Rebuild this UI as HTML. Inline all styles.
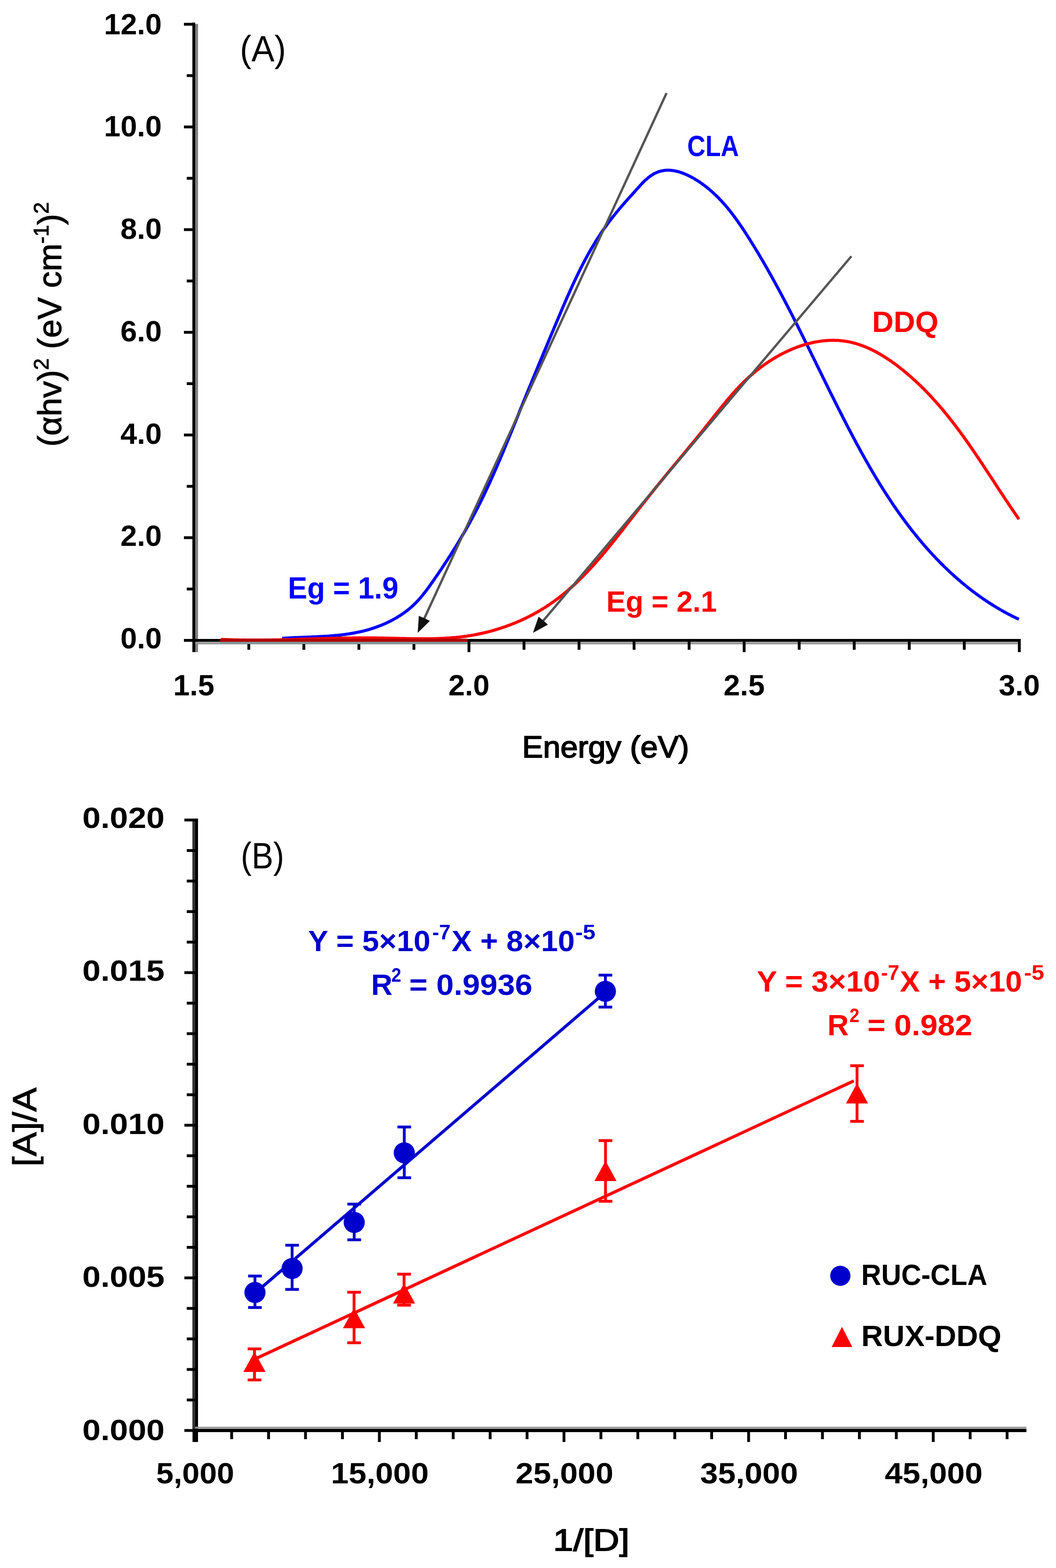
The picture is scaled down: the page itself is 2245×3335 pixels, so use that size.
<!DOCTYPE html>
<html><head><meta charset="utf-8"><title>Chart</title>
<style>
html,body{margin:0;padding:0;background:#fff;}
svg{display:block;font-family:"Liberation Sans", "DejaVu Sans", sans-serif;}
</style></head><body>
<svg width="2245" height="3335" viewBox="0 0 2245 3335">
<rect width="2245" height="3335" fill="#fff"/>
<line x1="412.0" y1="48.0" x2="412.0" y2="1387.0" stroke="#000" stroke-width="6" />
<line x1="418.0" y1="51.0" x2="418.0" y2="1387.0" stroke="#808080" stroke-width="6" />
<line x1="409.0" y1="1362.0" x2="2170.0" y2="1362.0" stroke="#000" stroke-width="6" />
<line x1="415.0" y1="1368.0" x2="2167.0" y2="1368.0" stroke="#9a9a9a" stroke-width="5" />
<line x1="391.0" y1="1362.0" x2="412.0" y2="1362.0" stroke="#000" stroke-width="6" />
<line x1="397.0" y1="1252.8" x2="412.0" y2="1252.8" stroke="#000" stroke-width="6" />
<line x1="391.0" y1="1143.6" x2="412.0" y2="1143.6" stroke="#000" stroke-width="6" />
<line x1="397.0" y1="1034.4" x2="412.0" y2="1034.4" stroke="#000" stroke-width="6" />
<line x1="391.0" y1="925.2" x2="412.0" y2="925.2" stroke="#000" stroke-width="6" />
<line x1="397.0" y1="816.0" x2="412.0" y2="816.0" stroke="#000" stroke-width="6" />
<line x1="391.0" y1="706.8" x2="412.0" y2="706.8" stroke="#000" stroke-width="6" />
<line x1="397.0" y1="597.6" x2="412.0" y2="597.6" stroke="#000" stroke-width="6" />
<line x1="391.0" y1="488.4" x2="412.0" y2="488.4" stroke="#000" stroke-width="6" />
<line x1="397.0" y1="379.2" x2="412.0" y2="379.2" stroke="#000" stroke-width="6" />
<line x1="391.0" y1="270.0" x2="412.0" y2="270.0" stroke="#000" stroke-width="6" />
<line x1="397.0" y1="160.8" x2="412.0" y2="160.8" stroke="#000" stroke-width="6" />
<line x1="391.0" y1="51.6" x2="412.0" y2="51.6" stroke="#000" stroke-width="6" />
<line x1="412.0" y1="1362.0" x2="412.0" y2="1387.0" stroke="#000" stroke-width="6" />
<line x1="529.0" y1="1362.0" x2="529.0" y2="1382.0" stroke="#000" stroke-width="6" />
<line x1="646.0" y1="1362.0" x2="646.0" y2="1382.0" stroke="#000" stroke-width="6" />
<line x1="763.0" y1="1362.0" x2="763.0" y2="1382.0" stroke="#000" stroke-width="6" />
<line x1="880.0" y1="1362.0" x2="880.0" y2="1382.0" stroke="#000" stroke-width="6" />
<line x1="997.0" y1="1362.0" x2="997.0" y2="1387.0" stroke="#000" stroke-width="6" />
<line x1="1114.0" y1="1362.0" x2="1114.0" y2="1382.0" stroke="#000" stroke-width="6" />
<line x1="1231.0" y1="1362.0" x2="1231.0" y2="1382.0" stroke="#000" stroke-width="6" />
<line x1="1348.0" y1="1362.0" x2="1348.0" y2="1382.0" stroke="#000" stroke-width="6" />
<line x1="1465.0" y1="1362.0" x2="1465.0" y2="1382.0" stroke="#000" stroke-width="6" />
<line x1="1582.0" y1="1362.0" x2="1582.0" y2="1387.0" stroke="#000" stroke-width="6" />
<line x1="1699.0" y1="1362.0" x2="1699.0" y2="1382.0" stroke="#000" stroke-width="6" />
<line x1="1816.0" y1="1362.0" x2="1816.0" y2="1382.0" stroke="#000" stroke-width="6" />
<line x1="1933.0" y1="1362.0" x2="1933.0" y2="1382.0" stroke="#000" stroke-width="6" />
<line x1="2050.0" y1="1362.0" x2="2050.0" y2="1382.0" stroke="#000" stroke-width="6" />
<line x1="2167.0" y1="1362.0" x2="2167.0" y2="1387.0" stroke="#000" stroke-width="6" />
<text x="344.0" y="1379.0" font-size="63" font-weight="bold" fill="#000" text-anchor="end" textLength="88.0" lengthAdjust="spacingAndGlyphs" >0.0</text>
<text x="344.0" y="1161.3" font-size="63" font-weight="bold" fill="#000" text-anchor="end" textLength="88.0" lengthAdjust="spacingAndGlyphs" >2.0</text>
<text x="344.0" y="943.5" font-size="63" font-weight="bold" fill="#000" text-anchor="end" textLength="88.0" lengthAdjust="spacingAndGlyphs" >4.0</text>
<text x="344.0" y="725.8" font-size="63" font-weight="bold" fill="#000" text-anchor="end" textLength="88.0" lengthAdjust="spacingAndGlyphs" >6.0</text>
<text x="344.0" y="508.1" font-size="63" font-weight="bold" fill="#000" text-anchor="end" textLength="88.0" lengthAdjust="spacingAndGlyphs" >8.0</text>
<text x="344.0" y="290.3" font-size="63" font-weight="bold" fill="#000" text-anchor="end" textLength="123.0" lengthAdjust="spacingAndGlyphs" >10.0</text>
<text x="344.0" y="72.6" font-size="63" font-weight="bold" fill="#000" text-anchor="end" textLength="123.0" lengthAdjust="spacingAndGlyphs" >12.0</text>
<text x="412.0" y="1479.0" font-size="63" font-weight="bold" fill="#000" text-anchor="middle" >1.5</text>
<text x="997.0" y="1479.0" font-size="63" font-weight="bold" fill="#000" text-anchor="middle" >2.0</text>
<text x="1582.0" y="1479.0" font-size="63" font-weight="bold" fill="#000" text-anchor="middle" >2.5</text>
<text x="2167.0" y="1479.0" font-size="63" font-weight="bold" fill="#000" text-anchor="middle" >3.0</text>
<path d="M600.0,1357.6 L602.9,1357.4 L605.8,1357.2 L608.7,1357.0 L611.7,1356.9 L614.6,1356.7 L617.5,1356.6 L620.5,1356.4 L623.4,1356.3 L626.3,1356.1 L629.3,1356.0 L632.2,1355.9 L635.1,1355.8 L638.1,1355.7 L641.0,1355.6 L643.9,1355.4 L646.9,1355.3 L649.8,1355.2 L652.7,1355.1 L655.7,1355.0 L658.6,1354.9 L661.5,1354.8 L664.5,1354.6 L667.4,1354.5 L670.3,1354.4 L673.3,1354.3 L676.2,1354.1 L679.1,1354.0 L682.0,1353.8 L685.0,1353.7 L687.9,1353.5 L690.8,1353.3 L693.7,1353.2 L696.7,1353.0 L699.6,1352.8 L702.5,1352.5 L705.4,1352.3 L708.3,1352.1 L711.2,1351.8 L714.1,1351.5 L717.0,1351.3 L719.9,1351.0 L722.8,1350.7 L725.7,1350.3 L728.6,1350.0 L731.5,1349.6 L734.4,1349.2 L737.3,1348.8 L740.2,1348.4 L743.1,1348.0 L745.9,1347.5 L748.8,1347.0 L751.7,1346.5 L754.5,1346.0 L757.4,1345.4 L760.2,1344.8 L763.1,1344.2 L766.0,1343.6 L768.8,1343.0 L771.6,1342.3 L774.5,1341.6 L777.3,1340.8 L780.1,1340.1 L783.0,1339.3 L785.8,1338.5 L788.6,1337.6 L791.4,1336.7 L794.2,1335.8 L797.0,1334.9 L799.8,1333.9 L802.5,1332.9 L805.3,1331.8 L808.1,1330.8 L810.8,1329.7 L813.5,1328.5 L816.3,1327.4 L819.0,1326.2 L821.6,1325.0 L824.3,1323.7 L827.0,1322.4 L829.6,1321.1 L832.3,1319.8 L834.9,1318.4 L837.4,1317.0 L840.0,1315.5 L842.6,1314.1 L845.1,1312.6 L847.6,1311.0 L850.1,1309.4 L852.5,1307.8 L855.0,1306.2 L857.4,1304.5 L859.8,1302.9 L862.1,1301.1 L864.5,1299.4 L866.8,1297.6 L869.0,1295.7 L871.3,1293.9 L873.5,1292.0 L875.7,1290.1 L877.8,1288.1 L879.9,1286.1 L882.0,1284.1 L884.1,1282.0 L886.1,1280.0 L888.1,1277.8 L890.1,1275.7 L892.0,1273.5 L893.9,1271.3 L895.8,1269.1 L897.7,1266.9 L899.5,1264.6 L901.3,1262.3 L903.1,1260.0 L904.9,1257.7 L906.7,1255.4 L908.4,1253.0 L910.2,1250.7 L911.9,1248.3 L913.6,1245.9 L915.3,1243.5 L917.0,1241.1 L918.7,1238.7 L920.4,1236.3 L922.1,1233.9 L923.7,1231.5 L925.4,1229.1 L927.1,1226.7 L928.7,1224.3 L930.4,1221.8 L932.1,1219.4 L933.7,1217.0 L935.3,1214.5 L937.0,1212.1 L938.6,1209.7 L940.3,1207.2 L941.9,1204.8 L943.5,1202.3 L945.1,1199.9 L946.7,1197.4 L948.3,1195.0 L949.9,1192.5 L951.5,1190.1 L953.1,1187.6 L954.7,1185.1 L956.3,1182.7 L957.9,1180.2 L959.4,1177.7 L961.0,1175.2 L962.6,1172.7 L964.1,1170.3 L965.7,1167.8 L967.2,1165.3 L968.8,1162.8 L970.3,1160.3 L971.8,1157.8 L973.3,1155.3 L974.8,1152.8 L976.4,1150.3 L977.9,1147.7 L979.4,1145.2 L980.9,1142.7 L982.3,1140.2 L983.8,1137.6 L985.3,1135.1 L986.8,1132.6 L988.2,1130.0 L989.7,1127.5 L991.1,1125.0 L992.6,1122.4 L994.0,1119.9 L995.4,1117.3 L996.9,1114.7 L998.3,1112.2 L999.7,1109.6 L1001.1,1107.0 L1002.5,1104.5 L1003.9,1101.9 L1005.3,1099.3 L1006.6,1096.7 L1008.0,1094.2 L1009.4,1091.6 L1010.7,1089.0 L1012.1,1086.4 L1013.4,1083.8 L1014.8,1081.2 L1016.1,1078.6 L1017.4,1076.0 L1018.7,1073.3 L1020.1,1070.7 L1021.4,1068.1 L1022.7,1065.5 L1023.9,1062.9 L1025.2,1060.2 L1026.5,1057.6 L1027.8,1055.0 L1029.1,1052.3 L1030.3,1049.7 L1031.6,1047.1 L1032.8,1044.4 L1034.1,1041.8 L1035.3,1039.1 L1036.6,1036.5 L1037.8,1033.8 L1039.0,1031.2 L1040.2,1028.5 L1041.5,1025.8 L1042.7,1023.2 L1043.9,1020.5 L1045.1,1017.8 L1046.3,1015.2 L1047.5,1012.5 L1048.7,1009.8 L1049.8,1007.1 L1051.0,1004.5 L1052.2,1001.8 L1053.4,999.1 L1054.5,996.4 L1055.7,993.7 L1056.9,991.0 L1058.0,988.3 L1059.2,985.7 L1060.3,983.0 L1061.5,980.3 L1062.6,977.6 L1063.8,974.9 L1064.9,972.2 L1066.1,969.5 L1067.2,966.8 L1068.3,964.1 L1069.5,961.4 L1070.6,958.7 L1071.7,956.0 L1072.8,953.3 L1074.0,950.5 L1075.1,947.8 L1076.2,945.1 L1077.3,942.4 L1078.4,939.7 L1079.5,937.0 L1080.6,934.3 L1081.7,931.6 L1082.9,928.9 L1084.0,926.1 L1085.1,923.4 L1086.2,920.7 L1087.3,918.0 L1088.4,915.3 L1089.5,912.6 L1090.6,909.8 L1091.7,907.1 L1092.8,904.4 L1093.9,901.7 L1095.0,899.0 L1096.1,896.3 L1097.2,893.6 L1098.3,890.8 L1099.4,888.1 L1100.5,885.4 L1101.6,882.7 L1102.7,880.0 L1103.7,877.3 L1104.8,874.5 L1105.9,871.8 L1107.0,869.1 L1108.1,866.4 L1109.3,863.7 L1110.4,861.0 L1111.5,858.3 L1112.6,855.6 L1113.7,852.8 L1114.8,850.1 L1115.9,847.4 L1117.0,844.7 L1118.1,842.0 L1119.2,839.3 L1120.3,836.6 L1121.4,833.9 L1122.5,831.2 L1123.6,828.5 L1124.7,825.8 L1125.8,823.1 L1127.0,820.3 L1128.1,817.6 L1129.2,814.9 L1130.3,812.2 L1131.4,809.5 L1132.5,806.8 L1133.6,804.1 L1134.7,801.4 L1135.9,798.7 L1137.0,796.0 L1138.1,793.3 L1139.2,790.6 L1140.3,787.9 L1141.4,785.2 L1142.6,782.5 L1143.7,779.8 L1144.8,777.1 L1145.9,774.4 L1147.0,771.7 L1148.2,769.0 L1149.3,766.3 L1150.4,763.6 L1151.5,760.9 L1152.7,758.2 L1153.8,755.5 L1154.9,752.8 L1156.0,750.1 L1157.2,747.4 L1158.3,744.7 L1159.4,742.0 L1160.5,739.3 L1161.7,736.6 L1162.8,733.9 L1163.9,731.2 L1165.1,728.5 L1166.2,725.8 L1167.3,723.1 L1168.4,720.4 L1169.6,717.7 L1170.7,715.0 L1171.8,712.3 L1173.0,709.6 L1174.1,706.9 L1175.2,704.2 L1176.4,701.5 L1177.5,698.8 L1178.6,696.1 L1179.8,693.4 L1180.9,690.7 L1182.0,688.0 L1183.2,685.3 L1184.3,682.6 L1185.5,679.9 L1186.6,677.2 L1187.7,674.5 L1188.9,671.8 L1190.0,669.1 L1191.2,666.4 L1192.3,663.7 L1193.4,661.0 L1194.6,658.3 L1195.7,655.6 L1196.9,652.9 L1198.0,650.2 L1199.2,647.5 L1200.4,644.8 L1201.5,642.2 L1202.7,639.5 L1203.9,636.8 L1205.0,634.1 L1206.2,631.4 L1207.4,628.7 L1208.6,626.1 L1209.8,623.4 L1211.0,620.7 L1212.2,618.0 L1213.4,615.4 L1214.6,612.7 L1215.8,610.0 L1217.0,607.4 L1218.2,604.7 L1219.4,602.1 L1220.7,599.4 L1221.9,596.8 L1223.2,594.1 L1224.4,591.5 L1225.7,588.8 L1226.9,586.2 L1228.2,583.6 L1229.5,580.9 L1230.8,578.3 L1232.1,575.7 L1233.4,573.1 L1234.7,570.5 L1236.0,567.8 L1237.3,565.2 L1238.7,562.6 L1240.0,560.1 L1241.4,557.5 L1242.7,554.9 L1244.1,552.3 L1245.5,549.7 L1246.9,547.2 L1248.3,544.6 L1249.7,542.0 L1251.1,539.5 L1252.6,536.9 L1254.0,534.4 L1255.4,531.9 L1256.9,529.3 L1258.4,526.8 L1259.9,524.3 L1261.4,521.8 L1262.9,519.3 L1264.4,516.8 L1265.9,514.3 L1267.5,511.8 L1269.0,509.3 L1270.6,506.9 L1272.2,504.4 L1273.8,501.9 L1275.4,499.5 L1277.0,497.0 L1278.6,494.6 L1280.3,492.2 L1281.9,489.8 L1283.6,487.3 L1285.3,484.9 L1287.0,482.5 L1288.7,480.2 L1290.4,477.8 L1292.2,475.4 L1293.9,473.0 L1295.7,470.7 L1297.5,468.3 L1299.3,466.0 L1301.1,463.7 L1302.9,461.4 L1304.7,459.1 L1306.6,456.8 L1308.4,454.5 L1310.2,452.2 L1312.1,450.0 L1314.0,447.7 L1315.8,445.5 L1317.7,443.2 L1319.6,441.0 L1321.5,438.8 L1323.3,436.6 L1325.2,434.5 L1327.1,432.3 L1329.0,430.2 L1330.9,428.0 L1332.8,425.9 L1334.7,423.8 L1336.5,421.7 L1338.4,419.6 L1340.3,417.5 L1342.2,415.4 L1344.1,413.4 L1346.0,411.3 L1347.9,409.2 L1349.8,407.1 L1351.7,404.9 L1353.6,402.8 L1355.6,400.6 L1357.5,398.5 L1359.4,396.3 L1361.4,394.1 L1363.4,391.9 L1365.4,389.8 L1367.5,387.6 L1369.6,385.5 L1371.8,383.4 L1374.0,381.4 L1376.3,379.5 L1378.6,377.6 L1381.0,375.7 L1383.4,374.0 L1385.9,372.4 L1388.4,370.8 L1390.9,369.4 L1393.5,368.1 L1396.0,366.9 L1398.7,365.8 L1401.3,364.9 L1403.9,364.1 L1406.6,363.5 L1409.3,363.0 L1412.0,362.6 L1414.7,362.3 L1417.4,362.1 L1420.1,362.1 L1422.9,362.1 L1425.6,362.3 L1428.4,362.5 L1431.1,362.9 L1433.9,363.3 L1436.6,363.9 L1439.4,364.5 L1442.2,365.2 L1444.9,366.0 L1447.7,366.9 L1450.4,367.9 L1453.2,368.9 L1455.9,370.0 L1458.6,371.2 L1461.3,372.4 L1464.0,373.7 L1466.7,375.0 L1469.3,376.4 L1472.0,377.8 L1474.6,379.3 L1477.2,380.8 L1479.7,382.4 L1482.3,384.0 L1484.8,385.6 L1487.3,387.2 L1489.8,388.9 L1492.2,390.6 L1494.6,392.4 L1497.0,394.1 L1499.3,395.9 L1501.7,397.7 L1504.0,399.6 L1506.3,401.4 L1508.5,403.3 L1510.7,405.2 L1512.9,407.1 L1515.1,409.1 L1517.3,411.1 L1519.4,413.1 L1521.6,415.1 L1523.6,417.1 L1525.7,419.2 L1527.8,421.3 L1529.8,423.4 L1531.8,425.5 L1533.8,427.6 L1535.8,429.8 L1537.8,431.9 L1539.7,434.1 L1541.6,436.3 L1543.5,438.5 L1545.4,440.8 L1547.3,443.0 L1549.1,445.3 L1551.0,447.6 L1552.8,449.9 L1554.6,452.2 L1556.4,454.5 L1558.2,456.8 L1559.9,459.2 L1561.7,461.5 L1563.4,463.9 L1565.1,466.3 L1566.8,468.7 L1568.5,471.1 L1570.2,473.5 L1571.9,475.9 L1573.6,478.3 L1575.2,480.7 L1576.9,483.2 L1578.5,485.6 L1580.2,488.1 L1581.8,490.5 L1583.4,493.0 L1585.0,495.4 L1586.6,497.9 L1588.2,500.4 L1589.8,502.9 L1591.3,505.3 L1592.9,507.8 L1594.5,510.3 L1596.0,512.8 L1597.6,515.3 L1599.1,517.8 L1600.7,520.3 L1602.2,522.8 L1603.8,525.3 L1605.3,527.8 L1606.8,530.3 L1608.3,532.8 L1609.8,535.3 L1611.4,537.8 L1612.9,540.3 L1614.4,542.9 L1615.9,545.4 L1617.3,547.9 L1618.8,550.4 L1620.3,553.0 L1621.8,555.5 L1623.3,558.0 L1624.7,560.5 L1626.2,563.1 L1627.6,565.6 L1629.1,568.1 L1630.6,570.7 L1632.0,573.2 L1633.4,575.8 L1634.9,578.3 L1636.3,580.9 L1637.7,583.4 L1639.2,586.0 L1640.6,588.5 L1642.0,591.1 L1643.4,593.6 L1644.8,596.2 L1646.2,598.7 L1647.6,601.3 L1649.0,603.9 L1650.4,606.4 L1651.8,609.0 L1653.2,611.6 L1654.6,614.1 L1656.0,616.7 L1657.4,619.3 L1658.8,621.9 L1660.1,624.4 L1661.5,627.0 L1662.9,629.6 L1664.2,632.2 L1665.6,634.8 L1667.0,637.3 L1668.3,639.9 L1669.7,642.5 L1671.0,645.1 L1672.4,647.7 L1673.7,650.3 L1675.1,652.9 L1676.4,655.5 L1677.7,658.1 L1679.1,660.6 L1680.4,663.2 L1681.7,665.8 L1683.1,668.4 L1684.4,671.0 L1685.7,673.6 L1687.1,676.2 L1688.4,678.8 L1689.7,681.5 L1691.0,684.1 L1692.3,686.7 L1693.7,689.3 L1695.0,691.9 L1696.3,694.5 L1697.6,697.1 L1698.9,699.7 L1700.2,702.3 L1701.5,704.9 L1702.8,707.6 L1704.1,710.2 L1705.4,712.8 L1706.7,715.4 L1708.0,718.0 L1709.3,720.6 L1710.6,723.3 L1711.9,725.9 L1713.2,728.5 L1714.5,731.1 L1715.8,733.8 L1717.1,736.4 L1718.4,739.0 L1719.7,741.6 L1721.0,744.2 L1722.3,746.9 L1723.6,749.5 L1724.8,752.1 L1726.1,754.7 L1727.4,757.4 L1728.7,760.0 L1730.0,762.6 L1731.3,765.3 L1732.6,767.9 L1733.9,770.5 L1735.1,773.1 L1736.4,775.8 L1737.7,778.4 L1739.0,781.0 L1740.3,783.7 L1741.6,786.3 L1742.9,788.9 L1744.2,791.5 L1745.4,794.2 L1746.7,796.8 L1748.0,799.4 L1749.3,802.1 L1750.6,804.7 L1751.9,807.3 L1753.2,809.9 L1754.5,812.6 L1755.8,815.2 L1757.1,817.8 L1758.4,820.5 L1759.7,823.1 L1761.0,825.7 L1762.2,828.3 L1763.5,831.0 L1764.8,833.6 L1766.1,836.2 L1767.4,838.8 L1768.7,841.5 L1770.1,844.1 L1771.4,846.7 L1772.7,849.3 L1774.0,851.9 L1775.3,854.6 L1776.6,857.2 L1777.9,859.8 L1779.2,862.4 L1780.5,865.0 L1781.8,867.7 L1783.2,870.3 L1784.5,872.9 L1785.8,875.5 L1787.1,878.1 L1788.5,880.7 L1789.8,883.3 L1791.1,886.0 L1792.4,888.6 L1793.8,891.2 L1795.1,893.8 L1796.5,896.4 L1797.8,899.0 L1799.1,901.6 L1800.5,904.2 L1801.8,906.8 L1803.2,909.4 L1804.5,912.0 L1805.9,914.6 L1807.3,917.2 L1808.6,919.8 L1810.0,922.4 L1811.4,925.0 L1812.7,927.6 L1814.1,930.2 L1815.5,932.8 L1816.8,935.3 L1818.2,937.9 L1819.6,940.5 L1821.0,943.1 L1822.4,945.7 L1823.8,948.3 L1825.2,950.8 L1826.6,953.4 L1828.0,956.0 L1829.4,958.6 L1830.8,961.1 L1832.2,963.7 L1833.7,966.3 L1835.1,968.8 L1836.5,971.4 L1837.9,973.9 L1839.4,976.5 L1840.8,979.0 L1842.3,981.6 L1843.7,984.1 L1845.2,986.7 L1846.6,989.2 L1848.1,991.8 L1849.5,994.3 L1851.0,996.8 L1852.5,999.4 L1854.0,1001.9 L1855.4,1004.4 L1856.9,1006.9 L1858.4,1009.4 L1859.9,1012.0 L1861.4,1014.5 L1862.9,1017.0 L1864.4,1019.5 L1866.0,1022.0 L1867.5,1024.5 L1869.0,1027.0 L1870.5,1029.5 L1872.1,1032.0 L1873.6,1034.4 L1875.2,1036.9 L1876.7,1039.4 L1878.3,1041.9 L1879.9,1044.3 L1881.4,1046.8 L1883.0,1049.3 L1884.6,1051.7 L1886.2,1054.2 L1887.8,1056.6 L1889.4,1059.1 L1891.0,1061.5 L1892.6,1064.0 L1894.2,1066.4 L1895.8,1068.8 L1897.5,1071.2 L1899.1,1073.7 L1900.7,1076.1 L1902.4,1078.5 L1904.1,1080.9 L1905.7,1083.3 L1907.4,1085.7 L1909.1,1088.1 L1910.7,1090.5 L1912.4,1092.8 L1914.1,1095.2 L1915.8,1097.6 L1917.5,1100.0 L1919.3,1102.3 L1921.0,1104.7 L1922.7,1107.0 L1924.5,1109.4 L1926.2,1111.7 L1928.0,1114.1 L1929.7,1116.4 L1931.5,1118.7 L1933.3,1121.0 L1935.1,1123.3 L1936.8,1125.6 L1938.6,1128.0 L1940.4,1130.2 L1942.3,1132.5 L1944.1,1134.8 L1945.9,1137.1 L1947.8,1139.4 L1949.6,1141.6 L1951.5,1143.9 L1953.3,1146.2 L1955.2,1148.4 L1957.1,1150.6 L1959.0,1152.9 L1960.8,1155.1 L1962.8,1157.3 L1964.7,1159.6 L1966.6,1161.8 L1968.5,1164.0 L1970.5,1166.2 L1972.4,1168.4 L1974.4,1170.5 L1976.3,1172.7 L1978.3,1174.9 L1980.3,1177.1 L1982.3,1179.2 L1984.3,1181.4 L1986.3,1183.5 L1988.3,1185.6 L1990.3,1187.8 L1992.3,1189.9 L1994.4,1192.0 L1996.4,1194.1 L1998.5,1196.2 L2000.5,1198.3 L2002.6,1200.3 L2004.7,1202.4 L2006.8,1204.5 L2008.9,1206.5 L2011.0,1208.5 L2013.1,1210.6 L2015.2,1212.6 L2017.4,1214.6 L2019.5,1216.6 L2021.6,1218.6 L2023.8,1220.6 L2026.0,1222.6 L2028.1,1224.5 L2030.3,1226.5 L2032.5,1228.4 L2034.7,1230.4 L2036.9,1232.3 L2039.1,1234.2 L2041.4,1236.1 L2043.6,1238.0 L2045.8,1239.9 L2048.1,1241.8 L2050.4,1243.6 L2052.6,1245.5 L2054.9,1247.3 L2057.2,1249.2 L2059.5,1251.0 L2061.8,1252.8 L2064.1,1254.6 L2066.4,1256.4 L2068.7,1258.2 L2071.1,1259.9 L2073.4,1261.7 L2075.8,1263.4 L2078.1,1265.1 L2080.5,1266.8 L2082.9,1268.6 L2085.3,1270.2 L2087.7,1271.9 L2090.1,1273.6 L2092.5,1275.2 L2094.9,1276.9 L2097.3,1278.5 L2099.8,1280.1 L2102.2,1281.7 L2104.7,1283.3 L2107.1,1284.9 L2109.6,1286.4 L2112.1,1288.0 L2114.6,1289.5 L2117.1,1291.0 L2119.6,1292.5 L2122.1,1294.0 L2124.6,1295.5 L2127.1,1297.0 L2129.7,1298.4 L2132.2,1299.9 L2134.8,1301.3 L2137.3,1302.7 L2139.9,1304.1 L2142.5,1305.5 L2145.1,1306.8 L2147.7,1308.2 L2150.3,1309.5 L2152.9,1310.8 L2155.5,1312.1 L2158.2,1313.4 L2160.8,1314.7 L2163.5,1315.9 L2166.1,1317.2" fill="none" stroke="#0000ff" stroke-width="6.5" stroke-linejoin="round"/>
<path d="M470.0,1359.9 L472.4,1360.0 L474.7,1360.1 L477.1,1360.2 L479.5,1360.3 L481.9,1360.4 L484.3,1360.5 L486.7,1360.6 L489.1,1360.7 L491.4,1360.7 L493.8,1360.8 L496.2,1360.9 L498.6,1360.9 L501.0,1361.0 L503.4,1361.1 L505.7,1361.1 L508.1,1361.2 L510.5,1361.2 L512.9,1361.2 L515.2,1361.3 L517.6,1361.3 L520.0,1361.3 L522.4,1361.4 L524.7,1361.4 L527.1,1361.4 L529.5,1361.4 L531.8,1361.4 L534.2,1361.4 L536.6,1361.4 L538.9,1361.5 L541.3,1361.5 L543.7,1361.5 L546.0,1361.4 L548.4,1361.4 L550.8,1361.4 L553.1,1361.4 L555.5,1361.4 L557.9,1361.4 L560.2,1361.4 L562.6,1361.3 L564.9,1361.3 L567.3,1361.3 L569.7,1361.3 L572.0,1361.2 L574.4,1361.2 L576.7,1361.2 L579.1,1361.1 L581.5,1361.1 L583.8,1361.0 L586.2,1361.0 L588.5,1361.0 L590.9,1360.9 L593.2,1360.9 L595.6,1360.8 L598.0,1360.8 L600.3,1360.7 L602.7,1360.7 L605.0,1360.6 L607.4,1360.5 L609.7,1360.5 L612.1,1360.4 L614.4,1360.4 L616.8,1360.3 L619.1,1360.2 L621.5,1360.2 L623.9,1360.1 L626.2,1360.0 L628.6,1360.0 L630.9,1359.9 L633.3,1359.8 L635.6,1359.8 L638.0,1359.7 L640.3,1359.6 L642.7,1359.6 L645.0,1359.5 L647.4,1359.4 L649.7,1359.4 L652.1,1359.3 L654.4,1359.2 L656.8,1359.1 L659.1,1359.1 L661.5,1359.0 L663.8,1358.9 L666.2,1358.9 L668.5,1358.8 L670.9,1358.7 L673.2,1358.6 L675.6,1358.6 L677.9,1358.5 L680.3,1358.4 L682.6,1358.4 L685.0,1358.3 L687.3,1358.2 L689.7,1358.2 L692.0,1358.1 L694.4,1358.0 L696.7,1358.0 L699.1,1357.9 L701.5,1357.8 L703.8,1357.8 L706.2,1357.7 L708.5,1357.7 L710.9,1357.6 L713.2,1357.5 L715.6,1357.5 L717.9,1357.4 L720.3,1357.4 L722.6,1357.3 L725.0,1357.3 L727.4,1357.2 L729.7,1357.2 L732.1,1357.1 L734.4,1357.1 L736.8,1357.1 L739.1,1357.0 L741.5,1357.0 L743.9,1356.9 L746.2,1356.9 L748.6,1356.9 L750.9,1356.8 L753.3,1356.8 L755.7,1356.8 L758.0,1356.8 L760.4,1356.8 L762.8,1356.7 L765.1,1356.7 L767.5,1356.7 L769.9,1356.7 L772.2,1356.7 L774.6,1356.7 L777.0,1356.7 L779.3,1356.7 L781.7,1356.7 L784.1,1356.7 L786.4,1356.7 L788.8,1356.7 L791.2,1356.7 L793.5,1356.8 L795.9,1356.8 L798.3,1356.8 L800.7,1356.8 L803.0,1356.9 L805.4,1356.9 L807.8,1356.9 L810.2,1357.0 L812.5,1357.0 L814.9,1357.1 L817.3,1357.1 L819.7,1357.2 L822.1,1357.2 L824.4,1357.3 L826.8,1357.3 L829.2,1357.4 L831.6,1357.4 L834.0,1357.5 L836.4,1357.6 L838.7,1357.6 L841.1,1357.7 L843.5,1357.7 L845.9,1357.8 L848.3,1357.8 L850.7,1357.9 L853.0,1358.0 L855.4,1358.0 L857.8,1358.1 L860.2,1358.1 L862.6,1358.2 L865.0,1358.2 L867.3,1358.3 L869.7,1358.3 L872.1,1358.4 L874.5,1358.4 L876.9,1358.4 L879.3,1358.5 L881.6,1358.5 L884.0,1358.5 L886.4,1358.6 L888.8,1358.6 L891.2,1358.6 L893.6,1358.6 L895.9,1358.6 L898.3,1358.6 L900.7,1358.6 L903.1,1358.6 L905.5,1358.6 L907.8,1358.6 L910.2,1358.6 L912.6,1358.5 L915.0,1358.5 L917.3,1358.5 L919.7,1358.4 L922.1,1358.4 L924.5,1358.3 L926.8,1358.2 L929.2,1358.2 L931.6,1358.1 L933.9,1358.0 L936.3,1357.9 L938.7,1357.8 L941.0,1357.7 L943.4,1357.6 L945.8,1357.5 L948.1,1357.3 L950.5,1357.2 L952.9,1357.0 L955.2,1356.9 L957.6,1356.7 L959.9,1356.5 L962.3,1356.3 L964.7,1356.1 L967.0,1355.9 L969.4,1355.7 L971.7,1355.4 L974.1,1355.2 L976.4,1355.0 L978.8,1354.7 L981.1,1354.4 L983.4,1354.1 L985.8,1353.8 L988.1,1353.5 L990.5,1353.2 L992.8,1352.9 L995.1,1352.5 L997.5,1352.1 L999.8,1351.8 L1002.1,1351.4 L1004.5,1351.0 L1006.8,1350.6 L1009.1,1350.1 L1011.4,1349.7 L1013.7,1349.3 L1016.1,1348.8 L1018.4,1348.3 L1020.7,1347.8 L1023.0,1347.3 L1025.3,1346.8 L1027.6,1346.3 L1029.9,1345.8 L1032.2,1345.2 L1034.5,1344.7 L1036.8,1344.1 L1039.1,1343.5 L1041.4,1342.9 L1043.6,1342.3 L1045.9,1341.7 L1048.2,1341.0 L1050.5,1340.4 L1052.7,1339.7 L1055.0,1339.0 L1057.3,1338.4 L1059.5,1337.7 L1061.8,1336.9 L1064.0,1336.2 L1066.3,1335.5 L1068.5,1334.7 L1070.7,1334.0 L1073.0,1333.2 L1075.2,1332.4 L1077.4,1331.6 L1079.6,1330.8 L1081.8,1330.0 L1084.0,1329.2 L1086.2,1328.3 L1088.4,1327.5 L1090.6,1326.6 L1092.8,1325.7 L1095.0,1324.9 L1097.2,1323.9 L1099.3,1323.0 L1101.5,1322.1 L1103.7,1321.2 L1105.8,1320.2 L1108.0,1319.3 L1110.1,1318.3 L1112.2,1317.3 L1114.4,1316.3 L1116.5,1315.3 L1118.6,1314.3 L1120.7,1313.2 L1122.8,1312.2 L1124.9,1311.1 L1127.0,1310.1 L1129.1,1309.0 L1131.2,1307.9 L1133.2,1306.8 L1135.3,1305.7 L1137.4,1304.5 L1139.4,1303.4 L1141.5,1302.3 L1143.5,1301.1 L1145.5,1299.9 L1147.6,1298.7 L1149.6,1297.5 L1151.6,1296.3 L1153.6,1295.1 L1155.6,1293.9 L1157.6,1292.6 L1159.5,1291.4 L1161.5,1290.1 L1163.5,1288.8 L1165.4,1287.5 L1167.4,1286.2 L1169.3,1284.9 L1171.2,1283.6 L1173.2,1282.3 L1175.1,1280.9 L1177.0,1279.6 L1178.9,1278.2 L1180.7,1276.8 L1182.6,1275.4 L1184.5,1274.0 L1186.4,1272.6 L1188.2,1271.2 L1190.1,1269.8 L1191.9,1268.3 L1193.7,1266.9 L1195.6,1265.4 L1197.4,1263.9 L1199.2,1262.5 L1201.0,1261.0 L1202.8,1259.5 L1204.6,1258.0 L1206.4,1256.4 L1208.2,1254.9 L1209.9,1253.4 L1211.7,1251.8 L1213.4,1250.3 L1215.2,1248.7 L1216.9,1247.1 L1218.7,1245.6 L1220.4,1244.0 L1222.1,1242.4 L1223.8,1240.8 L1225.5,1239.1 L1227.3,1237.5 L1229.0,1235.9 L1230.6,1234.3 L1232.3,1232.6 L1234.0,1231.0 L1235.7,1229.3 L1237.4,1227.6 L1239.0,1226.0 L1240.7,1224.3 L1242.3,1222.6 L1244.0,1220.9 L1245.6,1219.2 L1247.3,1217.5 L1248.9,1215.8 L1250.5,1214.0 L1252.1,1212.3 L1253.8,1210.6 L1255.4,1208.8 L1257.0,1207.1 L1258.6,1205.3 L1260.2,1203.6 L1261.8,1201.8 L1263.4,1200.0 L1265.0,1198.3 L1266.5,1196.5 L1268.1,1194.7 L1269.7,1192.9 L1271.3,1191.1 L1272.8,1189.3 L1274.4,1187.5 L1276.0,1185.7 L1277.5,1183.9 L1279.1,1182.1 L1280.6,1180.3 L1282.1,1178.4 L1283.7,1176.6 L1285.2,1174.8 L1286.8,1173.0 L1288.3,1171.1 L1289.8,1169.3 L1291.3,1167.4 L1292.9,1165.6 L1294.4,1163.7 L1295.9,1161.9 L1297.4,1160.0 L1298.9,1158.1 L1300.4,1156.3 L1301.9,1154.4 L1303.4,1152.5 L1304.9,1150.7 L1306.4,1148.8 L1307.9,1146.9 L1309.4,1145.0 L1310.9,1143.2 L1312.4,1141.3 L1313.9,1139.4 L1315.4,1137.5 L1316.8,1135.6 L1318.3,1133.7 L1319.8,1131.9 L1321.3,1130.0 L1322.8,1128.1 L1324.2,1126.2 L1325.7,1124.3 L1327.2,1122.4 L1328.6,1120.5 L1330.1,1118.6 L1331.6,1116.7 L1333.1,1114.8 L1334.5,1112.9 L1336.0,1111.0 L1337.5,1109.1 L1338.9,1107.2 L1340.4,1105.3 L1341.9,1103.4 L1343.3,1101.6 L1344.8,1099.7 L1346.2,1097.8 L1347.7,1095.9 L1349.2,1094.0 L1350.6,1092.1 L1352.1,1090.2 L1353.6,1088.3 L1355.0,1086.5 L1356.5,1084.6 L1357.9,1082.7 L1359.4,1080.8 L1360.9,1078.9 L1362.3,1077.1 L1363.8,1075.2 L1365.3,1073.3 L1366.7,1071.4 L1368.2,1069.6 L1369.7,1067.7 L1371.1,1065.9 L1372.6,1064.0 L1374.1,1062.2 L1375.6,1060.3 L1377.0,1058.5 L1378.5,1056.6 L1380.0,1054.8 L1381.5,1052.9 L1382.9,1051.1 L1384.4,1049.2 L1385.9,1047.4 L1387.4,1045.6 L1388.8,1043.7 L1390.3,1041.9 L1391.8,1040.1 L1393.3,1038.2 L1394.8,1036.4 L1396.3,1034.6 L1397.7,1032.8 L1399.2,1031.0 L1400.7,1029.1 L1402.2,1027.3 L1403.7,1025.5 L1405.2,1023.7 L1406.6,1021.9 L1408.1,1020.1 L1409.6,1018.3 L1411.1,1016.5 L1412.6,1014.6 L1414.1,1012.8 L1415.6,1011.0 L1417.1,1009.2 L1418.5,1007.4 L1420.0,1005.6 L1421.5,1003.8 L1423.0,1002.0 L1424.5,1000.2 L1426.0,998.4 L1427.5,996.6 L1429.0,994.8 L1430.5,993.0 L1431.9,991.2 L1433.4,989.4 L1434.9,987.6 L1436.4,985.8 L1437.9,984.0 L1439.4,982.2 L1440.9,980.4 L1442.4,978.6 L1443.9,976.8 L1445.4,975.0 L1446.8,973.2 L1448.3,971.5 L1449.8,969.7 L1451.3,967.9 L1452.8,966.1 L1454.3,964.3 L1455.8,962.5 L1457.3,960.7 L1458.7,958.9 L1460.2,957.1 L1461.7,955.3 L1463.2,953.5 L1464.7,951.7 L1466.2,949.9 L1467.7,948.0 L1469.2,946.2 L1470.6,944.4 L1472.1,942.6 L1473.6,940.8 L1475.1,939.0 L1476.6,937.2 L1478.1,935.4 L1479.5,933.6 L1481.0,931.8 L1482.5,929.9 L1484.0,928.1 L1485.5,926.3 L1486.9,924.5 L1488.4,922.7 L1489.9,920.8 L1491.4,919.0 L1492.8,917.2 L1494.3,915.4 L1495.8,913.5 L1497.3,911.7 L1498.7,909.9 L1500.2,908.0 L1501.7,906.2 L1503.1,904.3 L1504.6,902.5 L1506.1,900.7 L1507.5,898.8 L1509.0,897.0 L1510.5,895.1 L1511.9,893.3 L1513.4,891.4 L1514.9,889.6 L1516.3,887.7 L1517.8,885.8 L1519.3,884.0 L1520.7,882.1 L1522.2,880.3 L1523.7,878.4 L1525.2,876.6 L1526.6,874.7 L1528.1,872.9 L1529.6,871.0 L1531.1,869.2 L1532.6,867.3 L1534.1,865.5 L1535.6,863.6 L1537.1,861.8 L1538.6,859.9 L1540.1,858.1 L1541.6,856.3 L1543.1,854.4 L1544.6,852.6 L1546.2,850.8 L1547.7,849.0 L1549.2,847.2 L1550.8,845.4 L1552.3,843.6 L1553.9,841.8 L1555.4,840.0 L1557.0,838.2 L1558.6,836.4 L1560.2,834.6 L1561.8,832.8 L1563.4,831.1 L1565.0,829.3 L1566.6,827.6 L1568.2,825.8 L1569.9,824.1 L1571.5,822.4 L1573.1,820.6 L1574.8,818.9 L1576.5,817.2 L1578.2,815.5 L1579.8,813.8 L1581.5,812.2 L1583.3,810.5 L1585.0,808.8 L1586.7,807.2 L1588.5,805.5 L1590.2,803.9 L1592.0,802.3 L1593.8,800.7 L1595.5,799.1 L1597.3,797.5 L1599.2,795.9 L1601.0,794.3 L1602.8,792.8 L1604.7,791.2 L1606.5,789.7 L1608.4,788.2 L1610.3,786.7 L1612.2,785.2 L1614.1,783.7 L1616.0,782.2 L1618.0,780.8 L1619.9,779.3 L1621.9,777.9 L1623.8,776.5 L1625.8,775.1 L1627.8,773.7 L1629.8,772.3 L1631.8,770.9 L1633.8,769.6 L1635.8,768.3 L1637.8,767.0 L1639.9,765.7 L1641.9,764.4 L1644.0,763.1 L1646.1,761.9 L1648.1,760.6 L1650.2,759.4 L1652.3,758.2 L1654.4,757.0 L1656.5,755.9 L1658.6,754.7 L1660.8,753.6 L1662.9,752.5 L1665.0,751.4 L1667.2,750.3 L1669.3,749.2 L1671.5,748.2 L1673.6,747.2 L1675.8,746.2 L1678.0,745.2 L1680.2,744.2 L1682.4,743.3 L1684.5,742.3 L1686.7,741.4 L1688.9,740.5 L1691.2,739.7 L1693.4,738.8 L1695.6,738.0 L1697.8,737.2 L1700.0,736.4 L1702.3,735.7 L1704.5,734.9 L1706.7,734.2 L1709.0,733.5 L1711.2,732.8 L1713.5,732.2 L1715.7,731.6 L1718.0,730.9 L1720.2,730.4 L1722.5,729.8 L1724.7,729.3 L1727.0,728.8 L1729.3,728.3 L1731.5,727.8 L1733.8,727.4 L1736.1,727.0 L1738.3,726.6 L1740.6,726.2 L1742.9,725.9 L1745.2,725.5 L1747.4,725.3 L1749.7,725.0 L1752.0,724.8 L1754.3,724.5 L1756.5,724.4 L1758.8,724.2 L1761.1,724.1 L1763.4,724.0 L1765.6,723.9 L1767.9,723.8 L1770.2,723.8 L1772.4,723.8 L1774.7,723.9 L1777.0,723.9 L1779.2,724.0 L1781.5,724.1 L1783.8,724.3 L1786.0,724.5 L1788.3,724.7 L1790.5,724.9 L1792.8,725.2 L1795.0,725.5 L1797.3,725.8 L1799.5,726.1 L1801.8,726.5 L1804.0,726.9 L1806.2,727.4 L1808.5,727.9 L1810.7,728.4 L1812.9,728.9 L1815.1,729.5 L1817.3,730.1 L1819.5,730.7 L1821.7,731.4 L1823.9,732.0 L1826.1,732.8 L1828.3,733.5 L1830.5,734.3 L1832.7,735.0 L1834.8,735.9 L1837.0,736.7 L1839.2,737.6 L1841.3,738.5 L1843.5,739.4 L1845.6,740.3 L1847.7,741.3 L1849.9,742.3 L1852.0,743.3 L1854.1,744.3 L1856.3,745.4 L1858.4,746.4 L1860.5,747.5 L1862.6,748.6 L1864.7,749.8 L1866.7,750.9 L1868.8,752.1 L1870.9,753.3 L1873.0,754.5 L1875.0,755.7 L1877.1,757.0 L1879.1,758.2 L1881.2,759.5 L1883.2,760.8 L1885.2,762.1 L1887.2,763.5 L1889.3,764.8 L1891.3,766.2 L1893.3,767.5 L1895.3,768.9 L1897.2,770.3 L1899.2,771.7 L1901.2,773.2 L1903.1,774.6 L1905.1,776.0 L1907.0,777.5 L1909.0,779.0 L1910.9,780.5 L1912.8,781.9 L1914.7,783.4 L1916.6,785.0 L1918.5,786.5 L1920.4,788.0 L1922.3,789.5 L1924.1,791.1 L1926.0,792.6 L1927.9,794.2 L1929.7,795.8 L1931.5,797.3 L1933.4,798.9 L1935.2,800.5 L1937.0,802.1 L1938.8,803.7 L1940.6,805.3 L1942.3,806.9 L1944.1,808.5 L1945.9,810.1 L1947.6,811.7 L1949.4,813.4 L1951.1,815.0 L1952.9,816.6 L1954.6,818.3 L1956.3,819.9 L1958.0,821.6 L1959.7,823.3 L1961.4,824.9 L1963.1,826.6 L1964.8,828.3 L1966.4,830.0 L1968.1,831.7 L1969.8,833.4 L1971.4,835.1 L1973.0,836.8 L1974.7,838.5 L1976.3,840.2 L1977.9,842.0 L1979.5,843.7 L1981.1,845.4 L1982.7,847.2 L1984.3,848.9 L1985.9,850.7 L1987.5,852.4 L1989.1,854.2 L1990.7,855.9 L1992.2,857.7 L1993.8,859.5 L1995.3,861.3 L1996.9,863.0 L1998.4,864.8 L1999.9,866.6 L2001.5,868.4 L2003.0,870.2 L2004.5,872.0 L2006.0,873.8 L2007.5,875.6 L2009.0,877.4 L2010.5,879.3 L2012.0,881.1 L2013.5,882.9 L2014.9,884.8 L2016.4,886.6 L2017.9,888.4 L2019.3,890.3 L2020.8,892.1 L2022.3,894.0 L2023.7,895.8 L2025.1,897.7 L2026.6,899.5 L2028.0,901.4 L2029.5,903.3 L2030.9,905.1 L2032.3,907.0 L2033.7,908.9 L2035.1,910.8 L2036.5,912.7 L2037.9,914.6 L2039.3,916.4 L2040.7,918.3 L2042.1,920.2 L2043.5,922.1 L2044.9,924.0 L2046.3,925.9 L2047.7,927.8 L2049.0,929.8 L2050.4,931.7 L2051.8,933.6 L2053.1,935.5 L2054.5,937.4 L2055.9,939.3 L2057.2,941.3 L2058.6,943.2 L2059.9,945.1 L2061.3,947.1 L2062.6,949.0 L2063.9,950.9 L2065.3,952.9 L2066.6,954.8 L2068.0,956.8 L2069.3,958.7 L2070.6,960.6 L2071.9,962.6 L2073.3,964.5 L2074.6,966.5 L2075.9,968.4 L2077.2,970.4 L2078.5,972.4 L2079.9,974.3 L2081.2,976.3 L2082.5,978.2 L2083.8,980.2 L2085.1,982.2 L2086.4,984.1 L2087.7,986.1 L2089.0,988.1 L2090.3,990.0 L2091.6,992.0 L2092.9,994.0 L2094.2,995.9 L2095.5,997.9 L2096.8,999.9 L2098.1,1001.9 L2099.4,1003.8 L2100.7,1005.8 L2102.0,1007.8 L2103.3,1009.8 L2104.6,1011.7 L2105.9,1013.7 L2107.2,1015.7 L2108.5,1017.7 L2109.8,1019.6 L2111.1,1021.6 L2112.4,1023.6 L2113.7,1025.6 L2114.9,1027.6 L2116.2,1029.5 L2117.5,1031.5 L2118.8,1033.5 L2120.1,1035.5 L2121.4,1037.5 L2122.7,1039.4 L2124.0,1041.4 L2125.3,1043.4 L2126.6,1045.4 L2127.9,1047.4 L2129.2,1049.3 L2130.5,1051.3 L2131.8,1053.3 L2133.1,1055.3 L2134.4,1057.2 L2135.7,1059.2 L2137.0,1061.2 L2138.3,1063.2 L2139.6,1065.1 L2141.0,1067.1 L2142.3,1069.1 L2143.6,1071.1 L2144.9,1073.0 L2146.2,1075.0 L2147.5,1077.0 L2148.9,1078.9 L2150.2,1080.9 L2151.5,1082.8 L2152.8,1084.8 L2154.2,1086.8 L2155.5,1088.7 L2156.8,1090.7 L2158.2,1092.6 L2159.5,1094.6 L2160.9,1096.5 L2162.2,1098.5 L2163.6,1100.5 L2164.9,1102.4 L2166.3,1104.3" fill="none" stroke="#ff0000" stroke-width="6.5" stroke-linejoin="round"/>
<rect x="468" y="1358.5" width="526" height="6.5" fill="#b00000"/>
<rect x="468" y="1365" width="526" height="5" fill="#809898"/>
<line x1="901.4" y1="1316.9" x2="1417.0" y2="198.0" stroke="#555555" stroke-width="5" />
<polygon points="888.0,1346.0 914.0,1320.6 890.4,1309.7" fill="#111"/>
<line x1="1153.7" y1="1321.6" x2="1810.0" y2="545.0" stroke="#555555" stroke-width="5" />
<polygon points="1133.0,1346.0 1164.9,1328.4 1145.0,1311.6" fill="#111"/>
<text x="510.0" y="131.0" font-size="77" font-weight="normal" fill="#000" text-anchor="start" textLength="98.0" lengthAdjust="spacingAndGlyphs" >(A)</text>
<text x="1461.0" y="332.0" font-size="63" font-weight="bold" fill="#0000ff" text-anchor="start" textLength="110.0" lengthAdjust="spacingAndGlyphs" >CLA</text>
<text x="1854.0" y="706.0" font-size="63" font-weight="bold" fill="#ff0000" text-anchor="start" textLength="141.0" lengthAdjust="spacingAndGlyphs" >DDQ</text>
<text x="612.0" y="1273.0" font-size="65" font-weight="bold" fill="#0000ff" text-anchor="start" textLength="235.0" lengthAdjust="spacingAndGlyphs" >Eg = 1.9</text>
<text x="1289.0" y="1301.0" font-size="63" font-weight="bold" fill="#ff0000" text-anchor="start" textLength="235.0" lengthAdjust="spacingAndGlyphs" >Eg = 2.1</text>
<text x="1110.0" y="1611.0" font-size="65" font-weight="normal" fill="#000" text-anchor="start" textLength="355.0" lengthAdjust="spacingAndGlyphs" stroke="#000" stroke-width="2">Energy (eV)</text>
<g transform="translate(130,690) rotate(-90)"><text x="0" y="0" font-size="70" font-weight="normal" text-anchor="middle" fill="#000" stroke="#000" stroke-width="1.2" textLength="520" lengthAdjust="spacingAndGlyphs">(αhv)<tspan font-size="44" dy="-27.5">2</tspan><tspan dy="27.5"> (eV cm</tspan><tspan font-size="44" dy="-27.5">-1</tspan><tspan dy="27.5">)</tspan><tspan font-size="44" dy="-27.5">2</tspan></text></g>
<line x1="412.0" y1="1741.0" x2="412.0" y2="3067.0" stroke="#333" stroke-width="6" />
<line x1="418.0" y1="1741.0" x2="418.0" y2="3067.0" stroke="#000" stroke-width="6" />
<line x1="409.0" y1="3042.5" x2="2182.2" y2="3042.5" stroke="#000" stroke-width="7" />
<line x1="415.0" y1="3036.5" x2="2182.2" y2="3036.5" stroke="#999" stroke-width="4" />
<line x1="392.0" y1="3042.5" x2="415.0" y2="3042.5" stroke="#000" stroke-width="6" />
<line x1="397.0" y1="2977.6" x2="415.0" y2="2977.6" stroke="#000" stroke-width="6" />
<line x1="397.0" y1="2912.7" x2="415.0" y2="2912.7" stroke="#000" stroke-width="6" />
<line x1="397.0" y1="2847.7" x2="415.0" y2="2847.7" stroke="#000" stroke-width="6" />
<line x1="397.0" y1="2782.8" x2="415.0" y2="2782.8" stroke="#000" stroke-width="6" />
<line x1="392.0" y1="2717.9" x2="415.0" y2="2717.9" stroke="#000" stroke-width="6" />
<line x1="397.0" y1="2653.0" x2="415.0" y2="2653.0" stroke="#000" stroke-width="6" />
<line x1="397.0" y1="2588.1" x2="415.0" y2="2588.1" stroke="#000" stroke-width="6" />
<line x1="397.0" y1="2523.1" x2="415.0" y2="2523.1" stroke="#000" stroke-width="6" />
<line x1="397.0" y1="2458.2" x2="415.0" y2="2458.2" stroke="#000" stroke-width="6" />
<line x1="392.0" y1="2393.3" x2="415.0" y2="2393.3" stroke="#000" stroke-width="6" />
<line x1="397.0" y1="2328.4" x2="415.0" y2="2328.4" stroke="#000" stroke-width="6" />
<line x1="397.0" y1="2263.5" x2="415.0" y2="2263.5" stroke="#000" stroke-width="6" />
<line x1="397.0" y1="2198.5" x2="415.0" y2="2198.5" stroke="#000" stroke-width="6" />
<line x1="397.0" y1="2133.6" x2="415.0" y2="2133.6" stroke="#000" stroke-width="6" />
<line x1="392.0" y1="2068.7" x2="415.0" y2="2068.7" stroke="#000" stroke-width="6" />
<line x1="397.0" y1="2003.8" x2="415.0" y2="2003.8" stroke="#000" stroke-width="6" />
<line x1="397.0" y1="1938.9" x2="415.0" y2="1938.9" stroke="#000" stroke-width="6" />
<line x1="397.0" y1="1873.9" x2="415.0" y2="1873.9" stroke="#000" stroke-width="6" />
<line x1="397.0" y1="1809.0" x2="415.0" y2="1809.0" stroke="#000" stroke-width="6" />
<line x1="392.0" y1="1744.1" x2="415.0" y2="1744.1" stroke="#000" stroke-width="6" />
<line x1="414.0" y1="3042.5" x2="414.0" y2="3067.0" stroke="#000" stroke-width="6" />
<line x1="492.5" y1="3042.5" x2="492.5" y2="3061.0" stroke="#000" stroke-width="6" />
<line x1="571.0" y1="3042.5" x2="571.0" y2="3061.0" stroke="#000" stroke-width="6" />
<line x1="649.5" y1="3042.5" x2="649.5" y2="3061.0" stroke="#000" stroke-width="6" />
<line x1="728.0" y1="3042.5" x2="728.0" y2="3061.0" stroke="#000" stroke-width="6" />
<line x1="806.5" y1="3042.5" x2="806.5" y2="3067.0" stroke="#000" stroke-width="6" />
<line x1="885.0" y1="3042.5" x2="885.0" y2="3061.0" stroke="#000" stroke-width="6" />
<line x1="963.5" y1="3042.5" x2="963.5" y2="3061.0" stroke="#000" stroke-width="6" />
<line x1="1042.0" y1="3042.5" x2="1042.0" y2="3061.0" stroke="#000" stroke-width="6" />
<line x1="1120.5" y1="3042.5" x2="1120.5" y2="3061.0" stroke="#000" stroke-width="6" />
<line x1="1199.0" y1="3042.5" x2="1199.0" y2="3067.0" stroke="#000" stroke-width="6" />
<line x1="1277.5" y1="3042.5" x2="1277.5" y2="3061.0" stroke="#000" stroke-width="6" />
<line x1="1356.0" y1="3042.5" x2="1356.0" y2="3061.0" stroke="#000" stroke-width="6" />
<line x1="1434.5" y1="3042.5" x2="1434.5" y2="3061.0" stroke="#000" stroke-width="6" />
<line x1="1513.0" y1="3042.5" x2="1513.0" y2="3061.0" stroke="#000" stroke-width="6" />
<line x1="1591.5" y1="3042.5" x2="1591.5" y2="3067.0" stroke="#000" stroke-width="6" />
<line x1="1670.0" y1="3042.5" x2="1670.0" y2="3061.0" stroke="#000" stroke-width="6" />
<line x1="1748.5" y1="3042.5" x2="1748.5" y2="3061.0" stroke="#000" stroke-width="6" />
<line x1="1827.0" y1="3042.5" x2="1827.0" y2="3061.0" stroke="#000" stroke-width="6" />
<line x1="1905.5" y1="3042.5" x2="1905.5" y2="3061.0" stroke="#000" stroke-width="6" />
<line x1="1984.0" y1="3042.5" x2="1984.0" y2="3067.0" stroke="#000" stroke-width="6" />
<line x1="2062.5" y1="3042.5" x2="2062.5" y2="3061.0" stroke="#000" stroke-width="6" />
<line x1="2141.0" y1="3042.5" x2="2141.0" y2="3061.0" stroke="#000" stroke-width="6" />
<text x="350.0" y="3062.5" font-size="63" font-weight="bold" fill="#000" text-anchor="end" textLength="175.0" lengthAdjust="spacingAndGlyphs" >0.000</text>
<text x="350.0" y="2737.2" font-size="63" font-weight="bold" fill="#000" text-anchor="end" textLength="175.0" lengthAdjust="spacingAndGlyphs" >0.005</text>
<text x="350.0" y="2411.8" font-size="63" font-weight="bold" fill="#000" text-anchor="end" textLength="175.0" lengthAdjust="spacingAndGlyphs" >0.010</text>
<text x="350.0" y="2086.4" font-size="63" font-weight="bold" fill="#000" text-anchor="end" textLength="175.0" lengthAdjust="spacingAndGlyphs" >0.015</text>
<text x="350.0" y="1761.1" font-size="63" font-weight="bold" fill="#000" text-anchor="end" textLength="175.0" lengthAdjust="spacingAndGlyphs" >0.020</text>
<text x="415.0" y="3155.0" font-size="63" font-weight="bold" fill="#000" text-anchor="middle" textLength="166.0" lengthAdjust="spacingAndGlyphs" >5,000</text>
<text x="807.5" y="3155.0" font-size="63" font-weight="bold" fill="#000" text-anchor="middle" textLength="208.0" lengthAdjust="spacingAndGlyphs" >15,000</text>
<text x="1200.0" y="3155.0" font-size="63" font-weight="bold" fill="#000" text-anchor="middle" textLength="208.0" lengthAdjust="spacingAndGlyphs" >25,000</text>
<text x="1592.5" y="3155.0" font-size="63" font-weight="bold" fill="#000" text-anchor="middle" textLength="208.0" lengthAdjust="spacingAndGlyphs" >35,000</text>
<text x="1985.0" y="3155.0" font-size="63" font-weight="bold" fill="#000" text-anchor="middle" textLength="208.0" lengthAdjust="spacingAndGlyphs" >45,000</text>
<line x1="542.0" y1="2750.5" x2="1287.0" y2="2110.4" stroke="#0000cc" stroke-width="6.5" />
<line x1="541.0" y1="2891.0" x2="1815.0" y2="2299.0" stroke="#ff0000" stroke-width="6.5" />
<line x1="542.0" y1="2714.0" x2="542.0" y2="2781.0" stroke="#0000cc" stroke-width="6" />
<line x1="527.5" y1="2714.0" x2="556.5" y2="2714.0" stroke="#0000cc" stroke-width="6" />
<line x1="527.5" y1="2781.0" x2="556.5" y2="2781.0" stroke="#0000cc" stroke-width="6" />
<circle cx="542" cy="2749" r="22.5" fill="#0000cc"/>
<line x1="621.0" y1="2648.5" x2="621.0" y2="2742.5" stroke="#0000cc" stroke-width="6" />
<line x1="606.5" y1="2648.5" x2="635.5" y2="2648.5" stroke="#0000cc" stroke-width="6" />
<line x1="606.5" y1="2742.5" x2="635.5" y2="2742.5" stroke="#0000cc" stroke-width="6" />
<circle cx="621" cy="2698" r="22.5" fill="#0000cc"/>
<line x1="753.0" y1="2561.0" x2="753.0" y2="2637.0" stroke="#0000cc" stroke-width="6" />
<line x1="738.5" y1="2561.0" x2="767.5" y2="2561.0" stroke="#0000cc" stroke-width="6" />
<line x1="738.5" y1="2637.0" x2="767.5" y2="2637.0" stroke="#0000cc" stroke-width="6" />
<circle cx="753" cy="2600" r="22.5" fill="#0000cc"/>
<line x1="859.5" y1="2397.0" x2="859.5" y2="2505.0" stroke="#0000cc" stroke-width="6" />
<line x1="845.0" y1="2397.0" x2="874.0" y2="2397.0" stroke="#0000cc" stroke-width="6" />
<line x1="845.0" y1="2505.0" x2="874.0" y2="2505.0" stroke="#0000cc" stroke-width="6" />
<circle cx="859.5" cy="2452" r="22.5" fill="#0000cc"/>
<line x1="1287.0" y1="2074.0" x2="1287.0" y2="2142.0" stroke="#0000cc" stroke-width="6" />
<line x1="1272.5" y1="2074.0" x2="1301.5" y2="2074.0" stroke="#0000cc" stroke-width="6" />
<line x1="1272.5" y1="2142.0" x2="1301.5" y2="2142.0" stroke="#0000cc" stroke-width="6" />
<circle cx="1287" cy="2108.5" r="22.5" fill="#0000cc"/>
<line x1="541.0" y1="2869.0" x2="541.0" y2="2935.0" stroke="#ff0000" stroke-width="6" />
<line x1="526.5" y1="2869.0" x2="555.5" y2="2869.0" stroke="#ff0000" stroke-width="6" />
<line x1="526.5" y1="2935.0" x2="555.5" y2="2935.0" stroke="#ff0000" stroke-width="6" />
<polygon points="541,2875 564.5,2918 517.5,2918" fill="#ff0000"/>
<line x1="752.7" y1="2748.5" x2="752.7" y2="2856.0" stroke="#ff0000" stroke-width="6" />
<line x1="738.2" y1="2748.5" x2="767.2" y2="2748.5" stroke="#ff0000" stroke-width="6" />
<line x1="738.2" y1="2856.0" x2="767.2" y2="2856.0" stroke="#ff0000" stroke-width="6" />
<polygon points="752.7,2782 776.2,2825 729.2,2825" fill="#ff0000"/>
<line x1="859.0" y1="2710.0" x2="859.0" y2="2776.0" stroke="#ff0000" stroke-width="6" />
<line x1="844.5" y1="2710.0" x2="873.5" y2="2710.0" stroke="#ff0000" stroke-width="6" />
<line x1="844.5" y1="2776.0" x2="873.5" y2="2776.0" stroke="#ff0000" stroke-width="6" />
<polygon points="859,2729.5 882.5,2772.5 835.5,2772.5" fill="#ff0000"/>
<line x1="1287.3" y1="2426.0" x2="1287.3" y2="2555.0" stroke="#ff0000" stroke-width="6" />
<line x1="1272.8" y1="2426.0" x2="1301.8" y2="2426.0" stroke="#ff0000" stroke-width="6" />
<line x1="1272.8" y1="2555.0" x2="1301.8" y2="2555.0" stroke="#ff0000" stroke-width="6" />
<polygon points="1287.3,2469 1310.8,2512 1263.8,2512" fill="#ff0000"/>
<line x1="1822.0" y1="2266.7" x2="1822.0" y2="2385.0" stroke="#ff0000" stroke-width="6" />
<line x1="1807.5" y1="2266.7" x2="1836.5" y2="2266.7" stroke="#ff0000" stroke-width="6" />
<line x1="1807.5" y1="2385.0" x2="1836.5" y2="2385.0" stroke="#ff0000" stroke-width="6" />
<polygon points="1822,2304 1845.5,2347 1798.5,2347" fill="#ff0000"/>
<text x="512.0" y="1847.0" font-size="77" font-weight="normal" fill="#000" text-anchor="start" textLength="92.0" lengthAdjust="spacingAndGlyphs" >(B)</text>
<text x="655.0" y="2023.0" font-size="63" font-weight="bold" fill="#0000cc" text-anchor="start" textLength="260.0" lengthAdjust="spacingAndGlyphs" >Y = 5×10</text>
<text x="919.0" y="1998.0" font-size="44" font-weight="bold" fill="#0000cc" text-anchor="start" textLength="39.0" lengthAdjust="spacingAndGlyphs" >-7</text>
<text x="960.0" y="2023.0" font-size="63" font-weight="bold" fill="#0000cc" text-anchor="start" textLength="262.0" lengthAdjust="spacingAndGlyphs" >X + 8×10</text>
<text x="1223.0" y="1998.0" font-size="44" font-weight="bold" fill="#0000cc" text-anchor="start" textLength="43.0" lengthAdjust="spacingAndGlyphs" >-5</text>
<text x="789.0" y="2116.0" font-size="63" font-weight="bold" fill="#0000cc" text-anchor="start" >R</text>
<text x="832.0" y="2088.0" font-size="42" font-weight="bold" fill="#0000cc" text-anchor="start" textLength="21.0" lengthAdjust="spacingAndGlyphs" >2</text>
<text x="870.0" y="2116.0" font-size="63" font-weight="bold" fill="#0000cc" text-anchor="start" textLength="262.0" lengthAdjust="spacingAndGlyphs" >= 0.9936</text>
<text x="1609.0" y="2109.0" font-size="63" font-weight="bold" fill="#ff0000" text-anchor="start" textLength="262.0" lengthAdjust="spacingAndGlyphs" >Y = 3×10</text>
<text x="1873.0" y="2084.0" font-size="44" font-weight="bold" fill="#ff0000" text-anchor="start" textLength="39.0" lengthAdjust="spacingAndGlyphs" >-7</text>
<text x="1913.0" y="2109.0" font-size="63" font-weight="bold" fill="#ff0000" text-anchor="start" textLength="260.0" lengthAdjust="spacingAndGlyphs" >X + 5×10</text>
<text x="2177.0" y="2084.0" font-size="44" font-weight="bold" fill="#ff0000" text-anchor="start" textLength="43.0" lengthAdjust="spacingAndGlyphs" >-5</text>
<text x="1759.0" y="2202.0" font-size="63" font-weight="bold" fill="#ff0000" text-anchor="start" >R</text>
<text x="1806.0" y="2174.0" font-size="42" font-weight="bold" fill="#ff0000" text-anchor="start" textLength="21.0" lengthAdjust="spacingAndGlyphs" >2</text>
<text x="1844.0" y="2202.0" font-size="63" font-weight="bold" fill="#ff0000" text-anchor="start" textLength="223.0" lengthAdjust="spacingAndGlyphs" >= 0.982</text>
<circle cx="1786.5" cy="2713.5" r="21.5" fill="#0000cc"/>
<polygon points="1790,2822 1812,2865 1768,2865" fill="#ff0000"/>
<text x="1831.0" y="2733.0" font-size="63" font-weight="bold" fill="#000" text-anchor="start" textLength="268.0" lengthAdjust="spacingAndGlyphs" >RUC-CLA</text>
<text x="1831.0" y="2863.0" font-size="63" font-weight="bold" fill="#000" text-anchor="start" textLength="298.0" lengthAdjust="spacingAndGlyphs" >RUX-DDQ</text>
<text x="1176.0" y="3298.0" font-size="65" font-weight="normal" fill="#000" text-anchor="start" textLength="162.0" lengthAdjust="spacingAndGlyphs" stroke="#000" stroke-width="2">1/[D]</text>
<g transform="translate(77,2397) rotate(-90)"><text x="0" y="0" font-size="70" font-weight="normal" text-anchor="middle" fill="#000" stroke="#000" stroke-width="1.2" textLength="168" lengthAdjust="spacingAndGlyphs">[A]/A</text></g>
</svg>
</body></html>
